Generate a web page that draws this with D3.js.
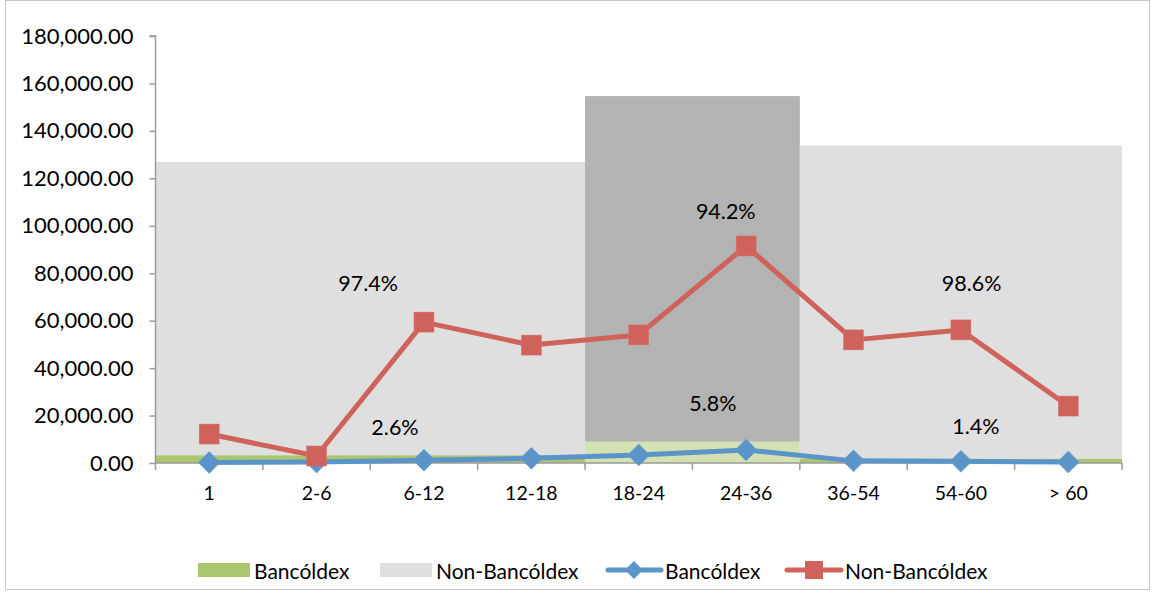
<!DOCTYPE html>
<html><head><meta charset="utf-8">
<script src="https://cdn.jsdelivr.net/npm/d3@7"></script>
<style>
body{margin:0;background:#fff;}
svg{display:block;font-family:Lato,"Open Sans",sans-serif;}
</style></head>
<body><svg id="c" width="1154" height="592"></svg>
<script>
// ---- data ----
const categories = ["1","2-6","6-12","12-18","18-24","24-36","36-54","54-60","> 60"];
const bancoldexLine = [200, 400, 1200, 2000, 3400, 5500, 900, 700, 400];
const nonBancoldexLine = [12200, 2950, 59400, 49700, 54000, 91500, 51900, 56100, 24000];
const groupFirst = ["1","18-24","36-54"];
const groupLast = ["12-18","24-36","> 60"];
const groupBancoldex = [3300, 8970, 1870];
const groupNonBancoldex = [123600, 145700, 131900];
const groupHighlighted = [false, true, false];
const yTicks = [0,20000,40000,60000,80000,100000,120000,140000,160000,180000];
// label anchors in data units (category index offset, value)
const nonLabelAnchorX = [1.98, 5.31, 7.6];
const nonLabelAnchorY = [75900, 106200, 75900];
const banLabelAnchorX = [2.23, 5.19, 7.64];
const banLabelAnchorY = [15200, 25300, 15600];

// ---- layout ----
const svg = d3.select("#c");
const x0 = 155.5, x1 = 1122, yTop = 36, yBot = 463;
const colors = {
  ban: "#abc66f", banHi: "#d3e2b2",
  non: "#dfdfdf", nonHi: "#b3b3b3",
  blue: "#5b94c9", red: "#cf625b", axis: "#9a9a9a"
};

svg.append("rect").attr("x",5.5).attr("y",0.5).attr("width",1144).attr("height",589)
  .attr("fill","#fff").attr("stroke","#c8c8c8").attr("stroke-width",1);

const x = d3.scaleBand().domain(categories).range([x0, x1]).padding(0);
const y = d3.scaleLinear().domain([0,180000]).range([yBot, yTop]);
const xc = c => x(c) + x.bandwidth()/2;
const xf = f => x0 + f * x.bandwidth();

// stacked group areas
const groups = groupFirst.map((g,i)=>({first:g,last:groupLast[i],ban:groupBancoldex[i],non:groupNonBancoldex[i],hi:groupHighlighted[i]}));
const stack = d3.stack().keys(["ban","non"]);
const series = stack(groups);
series.forEach(s=>{
  svg.append("g").selectAll("rect").data(s).join("rect")
    .attr("x", d=>x(d.data.first))
    .attr("width", d=>x(d.data.last)+x.bandwidth()-x(d.data.first))
    .attr("y", d=>y(d[1]))
    .attr("height", d=>y(d[0])-y(d[1]))
    .attr("fill", d=> s.key==="ban" ? (d.data.hi?colors.banHi:colors.ban) : (d.data.hi?colors.nonHi:colors.non));
});

// percent labels
const fmtPct = v => (v*100).toFixed(1)+"%";
groups.forEach((g,i)=>{
  const tot = g.ban+g.non;
  svg.append("text").attr("x",xf(nonLabelAnchorX[i])).attr("y",y(nonLabelAnchorY[i]))
    .attr("text-anchor","middle").attr("dominant-baseline","central")
    .attr("font-size",21.5).attr("fill","#000").text(fmtPct(g.non/tot));
  svg.append("text").attr("x",xf(banLabelAnchorX[i])).attr("y",y(banLabelAnchorY[i]))
    .attr("text-anchor","middle").attr("dominant-baseline","central")
    .attr("font-size",21.5).attr("fill","#000").text(fmtPct(g.ban/tot));
});

// axes
const yAxis = d3.axisLeft(y).tickValues(yTicks).tickFormat(d3.format(",.2f")).tickSize(6).tickPadding(16);
const gy = svg.append("g").attr("transform",`translate(${x0},0)`).call(yAxis);
gy.selectAll("path,line").attr("stroke",colors.axis).attr("stroke-width",1.5);
gy.select(".domain").attr("d",`M-6,${yTop}H0V${yBot}`);
gy.selectAll("text").attr("font-size",22).attr("fill","#000").attr("font-family","Lato");

const gx = svg.append("g").attr("transform",`translate(0,${yBot})`);
gx.append("line").attr("x1",x0).attr("x2",x1).attr("stroke",colors.axis).attr("stroke-width",1.5);
const bounds = categories.map(c=>x(c)).concat([x1]);
gx.selectAll("line.t").data(bounds).join("line").attr("class","t")
  .attr("x1",d=>d).attr("x2",d=>d).attr("y1",0).attr("y2",7).attr("stroke",colors.axis).attr("stroke-width",1.5);
gx.selectAll("text").data(categories).join("text")
  .attr("x",d=>xc(d)).attr("y",29).attr("text-anchor","middle").attr("dominant-baseline","central")
  .attr("font-size",19.5).attr("fill","#000").text(d=>d);

// lines
const line = d3.line().x((d,i)=>xc(categories[i])).y(d=>y(d));
svg.append("path").datum(bancoldexLine).attr("d",line).attr("fill","none")
  .attr("stroke",colors.blue).attr("stroke-width",5).attr("stroke-linejoin","round");
svg.append("path").datum(nonBancoldexLine).attr("d",line).attr("fill","none")
  .attr("stroke",colors.red).attr("stroke-width",5).attr("stroke-linejoin","round");
svg.append("g").selectAll("path").data(bancoldexLine).join("path")
  .attr("transform",(d,i)=>`translate(${xc(categories[i])},${y(d)})`)
  .attr("d","M0,-11L11,0L0,11L-11,0Z").attr("fill",colors.blue).attr("stroke","#6fa0d0").attr("stroke-width",0.5);
svg.append("g").selectAll("rect").data(nonBancoldexLine).join("rect")
  .attr("x",(d,i)=>xc(categories[i])-10).attr("y",d=>y(d)-10).attr("width",20).attr("height",20)
  .attr("fill",colors.red).attr("stroke","#d8766f").attr("stroke-width",0.5);

// legend
const lg = svg.append("g").attr("font-size",21);
const ly = 570;
lg.append("rect").attr("x",198).attr("y",ly-7).attr("width",52).attr("height",14).attr("fill",colors.ban);
lg.append("text").attr("x",254).attr("y",ly).attr("dominant-baseline","central").text("Bancóldex");
lg.append("rect").attr("x",380).attr("y",ly-7).attr("width",52).attr("height",14).attr("fill",colors.non);
lg.append("text").attr("x",436).attr("y",ly).attr("dominant-baseline","central").text("Non-Bancóldex");
lg.append("line").attr("x1",608).attr("x2",661).attr("y1",ly).attr("y2",ly).attr("stroke",colors.blue).attr("stroke-width",5).attr("stroke-linecap","round");
lg.append("path").attr("transform",`translate(634,${ly})`).attr("d","M0,-9L9,0L0,9L-9,0Z").attr("fill",colors.blue);
lg.append("text").attr("x",665).attr("y",ly).attr("dominant-baseline","central").text("Bancóldex");
lg.append("line").attr("x1",787).attr("x2",841).attr("y1",ly).attr("y2",ly).attr("stroke",colors.red).attr("stroke-width",5).attr("stroke-linecap","round");
lg.append("rect").attr("x",805).attr("y",ly-9).attr("width",18).attr("height",18).attr("fill",colors.red);
lg.append("text").attr("x",845).attr("y",ly).attr("dominant-baseline","central").text("Non-Bancóldex");
</script></body></html>
